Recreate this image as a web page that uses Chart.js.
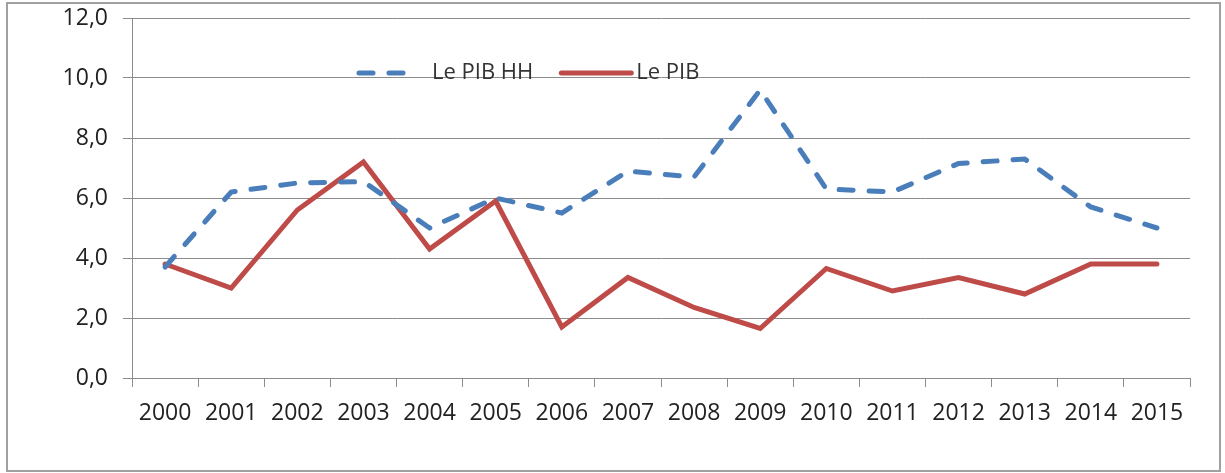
<!DOCTYPE html>
<html>
<head>
<meta charset="utf-8">
<script src="https://cdn.jsdelivr.net/npm/chart.js@4"></script>
<style>
    html, body { margin: 0; padding: 0; background: #fff; }
    #wrap { width: 1225px; height: 473px; position: relative; }
</style>
</head>
<body>
<div id="wrap"><canvas id="pibChart" width="1225" height="473"></canvas></div>
<script>
// annees
const years = ['2000', '2001', '2002', '2003', '2004', '2005', '2006', '2007',
    '2008', '2009', '2010', '2011', '2012', '2013', '2014', '2015'];
// Le PIB HH (tirets bleus)
const pibHH = [3.7, 6.2, 6.5, 6.55, 5.0, 6.0, 5.5, 6.9, 6.7, 9.6, 6.3, 6.2, 7.15, 7.3, 5.7, 5.0];
// Le PIB (trait rouge)
const pib = [3.8, 3.0, 5.6, 7.2, 4.3, 5.9, 1.7, 3.35, 2.35, 1.65, 3.65, 2.9, 3.35, 2.8, 3.8, 3.8];
const seriesNames = ['Le PIB HH', 'Le PIB'];
const yTicks = [0, 2, 4, 6, 8, 10, 12];

const fontFamily = '"Open Sans", "DejaVu Sans", sans-serif';
const gridColor = '#8c8c8c';

// cadre gris autour du graphique
const framePlugin = {
    id: 'frame',
    beforeDraw(chart) {
        const ctx = chart.ctx;
        ctx.save();
        ctx.strokeStyle = '#a0a0a0';
        ctx.lineWidth = 2;
        ctx.strokeRect(7, 3, 1213, 468);
        ctx.restore();
    }
};

// legende dans la zone du graphique, comme dans Excel
const insideLegend = {
    id: 'insideLegend',
    afterDatasetsDraw(chart) {
        const ctx = chart.ctx;
        const y = 73;
        let x = 357;
        ctx.save();
        ctx.font = '22px ' + fontFamily;
        ctx.textBaseline = 'middle';
        chart.data.datasets.forEach((ds) => {
            ctx.strokeStyle = ds.borderColor;
            ctx.lineWidth = ds.borderWidth;
            ctx.lineCap = ds.borderCapStyle || 'butt';
            ctx.setLineDash(ds.borderDash || []);
            ctx.beginPath();
            if (ds.borderDash && ds.borderDash.length) {
                ctx.moveTo(x + 2, y);
                ctx.lineTo(x + 54, y);
            } else {
                ctx.moveTo(x, y);
                ctx.lineTo(x + 70, y);
            }
            ctx.stroke();
            ctx.setLineDash([]);
            ctx.fillStyle = '#333';
            ctx.fillText(ds.label, x + 75, y);
            x += 75 + ctx.measureText(ds.label).width + 28;
        });
        ctx.restore();
    }
};

const ctx = document.getElementById('pibChart').getContext('2d');
const pibChart = new Chart(ctx, {
    type: 'line',
    data: {
        labels: years,
        datasets: [{
            label: seriesNames[0],
            data: pibHH,
            borderColor: '#4A7EBB',
            borderWidth: 5,
            borderDash: [14, 16],
            borderCapStyle: 'round',
            pointRadius: 0,
            tension: 0,
            fill: false
        }, {
            label: seriesNames[1],
            data: pib,
            borderColor: '#BE4B48',
            borderWidth: 5,
            borderCapStyle: 'round',
            borderJoinStyle: 'miter',
            pointRadius: 0,
            tension: 0,
            fill: false
        }]
    },
    options: {
        responsive: false,
        animation: false,
        layout: {
            padding: { top: 18, right: 35, bottom: 0, left: 0 }
        },
        plugins: {
            legend: { display: false },
            tooltip: { enabled: false }
        },
        scales: {
            x: {
                offset: true,
                grid: {
                    display: true,
                    drawOnChartArea: false,
                    offset: true,
                    color: gridColor,
                    tickLength: 9
                },
                border: { display: true, color: gridColor, width: 1 },
                ticks: {
                    color: '#222',
                    padding: 13,
                    maxRotation: 0,
                    autoSkip: false,
                    font: { family: fontFamily, size: 23 }
                },
                afterFit(scale) {
                    scale.height = 95;
                }
            },
            y: {
                min: 0,
                max: 12,
                afterBuildTicks(scale) {
                    scale.ticks = yTicks.map(v => ({ value: v }));
                },
                grid: {
                    color: gridColor,
                    tickLength: 9
                },
                border: { display: true, color: gridColor, width: 1 },
                ticks: {
                    color: '#222',
                    padding: 15,
                    font: { family: fontFamily, size: 23 },
                    callback: function (value) {
                        return value.toFixed(1).replace('.', ',');
                    }
                },
                afterFit(scale) {
                    scale.width = 132;
                    scale.paddingTop = 0;
                    scale.paddingBottom = 0;
                }
            }
        }
    },
    plugins: [framePlugin, insideLegend]
});
</script>
</body>
</html>
